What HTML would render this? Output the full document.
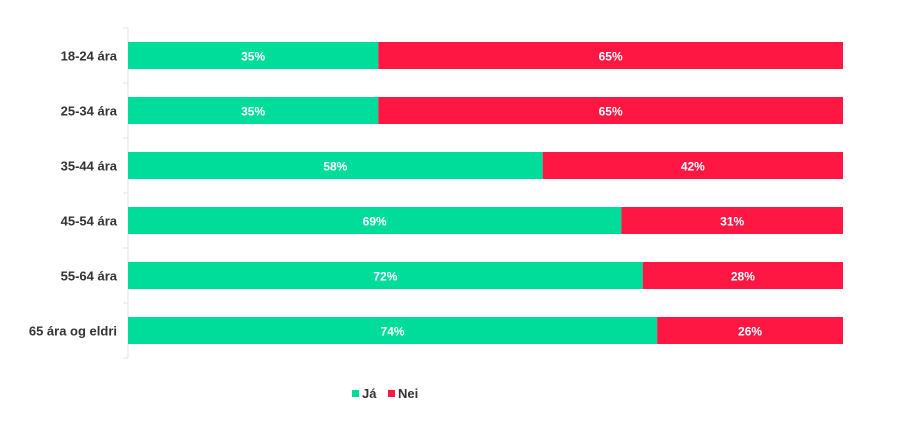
<!DOCTYPE html>
<html><head><meta charset="utf-8"><style>
body{margin:0;background:#fff;font-family:"Liberation Sans",sans-serif}
svg text{font-family:"Liberation Sans",sans-serif}
</style></head><body>
<svg width="897" height="435">
<g id="plot"></g>
<g>
<rect x="352" y="390" width="7" height="7" fill="#00dc9a"/>
<text x="362" y="398" font-size="13" font-weight="bold" fill="#333">Já</text>
<rect x="388" y="390" width="7" height="7" fill="#ff1744"/>
<text x="398" y="398" font-size="13" font-weight="bold" fill="#333">Nei</text>
</g>
</svg>
<script>
const categories=["18-24 ára","25-34 ára","35-44 ára","45-54 ára","55-64 ára","65 ára og eldri"];
const jaValues=[35,35,58,69,72,74];
const neiValues=[65,65,42,31,28,26];
const NS="http://www.w3.org/2000/svg";
const g=document.getElementById('plot');
const x0=128,x1=843,top0=28,band=55,barH=27;
const xs=v=>x0+(x1-x0)*v/100;
const yb=i=>top0+i*band+(band-barH)/2;
function mk(t,a){const e=document.createElementNS(NS,t);for(const k in a)e.setAttribute(k,a[k]);g.appendChild(e);return e;}
const ax=mk('line',{x1:x0,x2:x0,y1:top0,y2:top0+band*categories.length,stroke:'#e0e0e0'});


for(let i=0;i<=categories.length;i++){const t=mk('line',{x1:x0-5,x2:x0,y1:top0+i*band,y2:top0+i*band,stroke:'#e0e0e0'});

}
categories.forEach((c,i)=>{
const y=yb(i);
const l=mk('text',{x:x0-11,y:y+barH/2+5,'text-anchor':'end','font-size':'13','font-weight':'bold',fill:'#333'});l.textContent=c;


const tot=jaValues[i]+neiValues[i];
const a=mk('rect',{x:x0,y:y,width:xs(jaValues[i]/tot*100)-x0,height:barH,fill:'#00dc9a'});


const b=mk('rect',{x:xs(jaValues[i]/tot*100),y:y,width:x1-xs(jaValues[i]/tot*100),height:barH,fill:'#ff1744'});


const ta=mk('text',{x:(x0+xs(jaValues[i]/tot*100))/2,y:y+barH/2+5,'text-anchor':'middle','font-size':'12','font-weight':'bold',fill:'#fff'});ta.textContent=jaValues[i]+'%';


const tb=mk('text',{x:(xs(jaValues[i]/tot*100)+x1)/2,y:y+barH/2+5,'text-anchor':'middle','font-size':'12','font-weight':'bold',fill:'#fff'});tb.textContent=neiValues[i]+'%';


});
</script>
</body></html>
